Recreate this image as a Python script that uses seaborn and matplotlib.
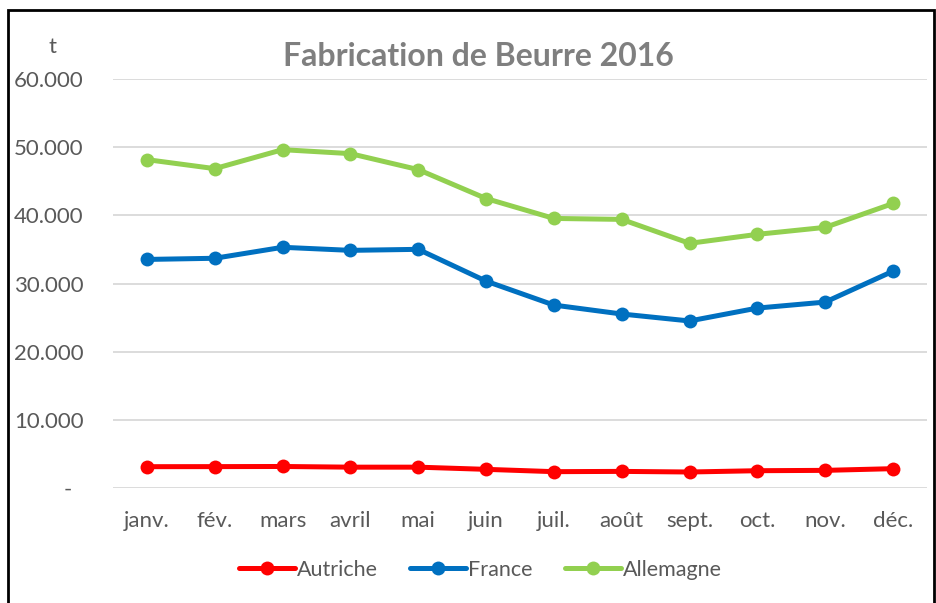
import matplotlib
matplotlib.use("Agg")
import matplotlib.pyplot as plt
import seaborn as sns
import pandas as pd
from matplotlib.patches import Rectangle

months = ["janv.", "fév.", "mars", "avril", "mai", "juin", "juil.", "août", "sept.", "oct.", "nov.", "déc."]
autriche = [3170, 3180, 3200, 3100, 3100, 2780, 2440, 2480, 2390, 2580, 2630, 2880]
france = [33550, 33720, 35330, 34880, 35030, 30370, 26860, 25550, 24530, 26420, 27300, 31830]
allemagne = [48180, 46860, 49640, 49060, 46720, 42480, 39560, 39420, 35910, 37230, 38250, 41750]
series_names = ["Autriche", "France", "Allemagne"]
colors = ["#FF0000", "#0070C0", "#92D050"]
yticks = [0, 10000, 20000, 30000, 40000, 50000, 60000]
ytick_labels = ["-  ", "10.000", "20.000", "30.000", "40.000", "50.000", "60.000"]

sns.set_theme(style="white")
plt.rcParams["font.family"] = ["Lato", "DejaVu Sans"]

rows = []
for name, vals in zip(series_names, [autriche, france, allemagne]):
    for i, v in enumerate(vals):
        rows.append({"idx": i, "value": v, "Pays": name})
df = pd.DataFrame(rows)

fig = plt.figure(figsize=(9.37, 6.03), dpi=100)
ax = fig.add_axes([0.1206, 0.1902, 0.8687, 0.6788])

sns.lineplot(data=df, x="idx", y="value", hue="Pays", hue_order=series_names,
             palette=colors, marker="o", markersize=10, markeredgewidth=0,
             linewidth=3.6, ax=ax, legend=True)

ax.set_xlim(-0.5, 11.5)
ax.set_ylim(0, 60000)
ax.set_yticks(yticks)
ax.set_yticklabels(ytick_labels)
ax.set_xticks(range(len(months)))
ax.set_xticklabels(months)
ax.grid(axis="y", color="#d9d9d9", linewidth=1.3)
ax.set_axisbelow(True)
for s in ax.spines.values():
    s.set_visible(False)
ax.tick_params(axis="both", length=0, labelsize=16, labelcolor="#595959")
ax.tick_params(axis="y", pad=21)
ax.tick_params(axis="x", pad=16)
ax.set_xlabel("")
ax.set_ylabel("")

fig.text(0.5101, 0.907, "Fabrication de Beurre 2016", ha="center", va="center",
         fontsize=23, fontweight="bold", color="#7f7f7f")
fig.text(0.0555, 0.922, "t", ha="center", va="center", fontsize=16, color="#595959")

leg = ax.legend(loc="center", bbox_to_anchor=(0.5126, 0.0555), bbox_transform=fig.transFigure,
                ncol=3, frameon=False, fontsize=15.5, handlelength=2.6, handletextpad=0.1,
                columnspacing=1.5)
for t in leg.get_texts():
    t.set_color("#595959")
for line in leg.get_lines():
    line.set_linewidth(3.6)

fig.patches.append(Rectangle((8 / 937, -0.05), (934 - 8) / 937, 1 - 10 / 603 + 0.05,
                             transform=fig.transFigure, fill=False, edgecolor="black",
                             linewidth=2))

fig.savefig("out.png", dpi=100)
